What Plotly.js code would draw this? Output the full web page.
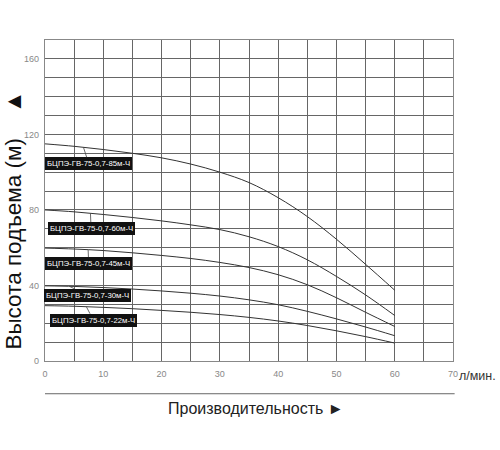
<!DOCTYPE html>
<html>
<head>
<meta charset="utf-8">
<script src="https://cdn.plot.ly/plotly-3.0.1.min.js"></script>
<style>html,body{margin:0;padding:0;background:#fff;}#chart{width:500px;height:450px;}</style>
</head>
<body>
<div id="chart"></div>
<script>
// Flow (л/мин.)
const flow = [0, 5, 10, 15, 20, 25, 30, 35, 40, 45, 50, 55, 60];
// Head (м) for each pump model
const head85 = [115, 113.7, 112, 110, 107.6, 104.3, 100, 94.5, 86.5, 76.5, 64.5, 51.2, 37.5];
const head60 = [80, 79, 77.6, 76, 74.2, 72.1, 69.6, 65.8, 60.6, 53.6, 44.8, 35, 24.1];
const head45 = [59.8, 59.3, 58.5, 57.3, 55.9, 54.3, 52.2, 49.5, 45.7, 40.4, 33.5, 25.8, 18.3];
const head30 = [39.8, 39.5, 38.9, 38.1, 37.1, 35.9, 34.4, 32.4, 29.8, 26.3, 22.3, 18, 13.4];
const head22 = [29.3, 29, 28.4, 27.7, 26.8, 25.8, 24.6, 23.1, 21.2, 18.8, 16, 12.9, 9.5];
const modelNames = ["БЦПЭ-ГВ-75-0,7-85м-Ч", "БЦПЭ-ГВ-75-0,7-60м-Ч", "БЦПЭ-ГВ-75-0,7-45м-Ч", "БЦПЭ-ГВ-75-0,7-30м-Ч", "БЦПЭ-ГВ-75-0,7-22м-Ч"];
const xTickVals = [0, 10, 20, 30, 40, 50, 60, 70];
const yTickVals = [0, 40, 80, 120, 160];
const xTitle = "Производительность ►";
const yTitle = "Высота подъема (м)\u00a0\u00a0\u00a0 ▲";
const xUnit = "л/мин.";

const series = [head85, head60, head45, head30, head22];

// label placement (leader tip x on curve, box centre)
const labelPlace = [
  {tipX: 6.6, boxX: 7.5, boxY: 104.5},
  {tipX: 7.8, boxX: 7.9, boxY: 70.1},
  {tipX: 7.4, boxX: 7.5, boxY: 51.6},
  {tipX: 4.2, boxX: 7.25, boxY: 34.8},
  {tipX: 7.1, boxX: 8.3, boxY: 21.6}
];

function interp(xs, ys, x) {
  for (let i = 0; i < xs.length - 1; i++) {
    if (x >= xs[i] && x <= xs[i + 1]) {
      const t = (x - xs[i]) / (xs[i + 1] - xs[i]);
      return ys[i] + t * (ys[i + 1] - ys[i]);
    }
  }
  return ys[ys.length - 1];
}

const traces = series.map((ys, i) => ({
  x: flow, y: ys, type: 'scatter', mode: 'lines', name: modelNames[i],
  line: {color: '#333', width: 1, shape: 'spline', smoothing: 1},
  hoverinfo: 'skip', showlegend: false
}));

const annotations = series.map((ys, i) => {
  const p = labelPlace[i];
  return {
    x: p.tipX, y: interp(flow, ys, p.tipX), xref: 'x', yref: 'y',
    ax: p.boxX, ay: p.boxY, axref: 'x', ayref: 'y',
    text: modelNames[i], showarrow: true, arrowhead: 0, arrowwidth: 0.8, arrowcolor: '#444',
    bgcolor: '#111', borderpad: 2, bordercolor: '#111', borderwidth: 0,
    font: {family: 'Liberation Sans Narrow, Arial Narrow, Liberation Sans, Arial', size: 7.8, color: '#fff'}
  };
});

annotations.push({
  x: 1.01, y: -0.048, xref: 'paper', yref: 'paper', xanchor: 'left', yanchor: 'middle',
  text: xUnit, showarrow: false,
  font: {family: 'Liberation Sans, Arial', size: 12.5, color: '#333'}
});
annotations.push({
  x: 0.517, y: -0.148, xref: 'paper', yref: 'paper', xanchor: 'center', yanchor: 'middle',
  text: xTitle, showarrow: false,
  font: {family: 'Liberation Sans, Arial', size: 16, color: '#222'}
});
annotations.push({
  x: -0.078, y: 0.438, xref: 'paper', yref: 'paper', xanchor: 'center', yanchor: 'middle',
  text: yTitle, showarrow: false, textangle: -90,
  font: {family: 'Liberation Sans, Arial', size: 22.5, color: '#111'}
});

const layout = {
  width: 500, height: 450,
  margin: {l: 45, r: 46.7, t: 40, b: 88.7},
  paper_bgcolor: '#fff', plot_bgcolor: '#fff',
  font: {family: 'Liberation Sans, Arial', color: '#888', size: 9},
  xaxis: {
    range: [0, 70], tickvals: xTickVals, ticktext: xTickVals.map(String),
    showgrid: true, gridcolor: '#666', gridwidth: 1,
    minor: {dtick: 5, showgrid: true, gridcolor: '#666', gridwidth: 1},
    showline: true, mirror: true, linecolor: '#888', linewidth: 1.2,
    zeroline: false, ticks: '', ticklabelstandoff: 4,
    tickfont: {size: 9, color: '#888'}, automargin: false
  },
  yaxis: {
    range: [0, 170], tickvals: yTickVals, ticktext: yTickVals.map(String),
    showgrid: true, gridcolor: '#666', gridwidth: 1,
    minor: {dtick: 10, showgrid: true, gridcolor: '#666', gridwidth: 1},
    showline: true, mirror: true, linecolor: '#888', linewidth: 1.2,
    zeroline: false, ticks: '', ticklabelstandoff: 3,
    tickfont: {size: 9, color: '#888'}, automargin: false
  },
  shapes: [{
    type: 'line', xref: 'paper', yref: 'paper', x0: 0, x1: 1.004, y0: -0.102, y1: -0.102,
    line: {color: '#666', width: 1}
  }],
  annotations: annotations
};

Plotly.newPlot('chart', traces, layout, {staticPlot: true, displayModeBar: false});
</script>
</body>
</html>
